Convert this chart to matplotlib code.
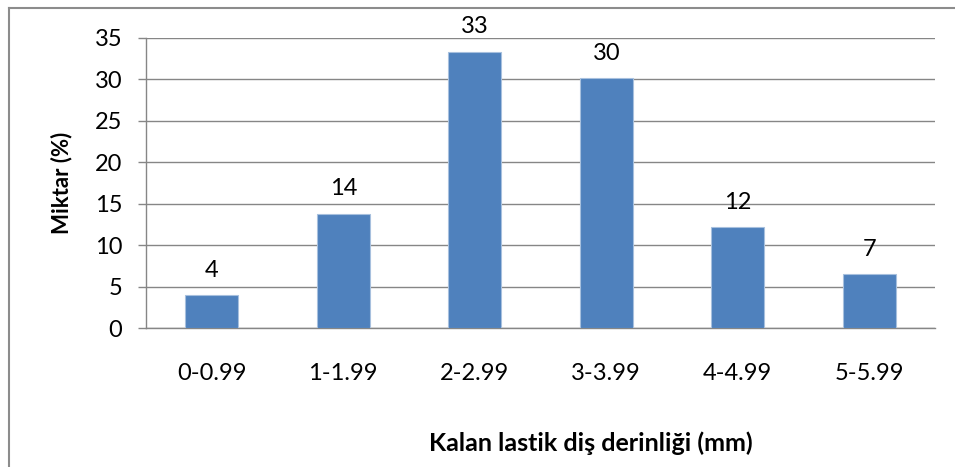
import matplotlib
matplotlib.use("Agg")
import matplotlib.pyplot as plt
from matplotlib.lines import Line2D

# tread depth classes (mm) and share of tyres (%)
categories = ["0-0.99", "1-1.99", "2-2.99", "3-3.99", "4-4.99", "5-5.99"]
shares = [4.0, 13.8, 33.3, 30.1, 12.2, 6.5]
y_ticks = [0, 5, 10, 15, 20, 25, 30, 35]

plt.rcParams["font.family"] = ["Lato", "DejaVu Sans"]

W, H = 955, 467
fig = plt.figure(figsize=(W / 100, H / 100), dpi=100)
ax = fig.add_axes([146 / W, 1 - 328.3 / H, (935 - 146) / W, (328.3 - 37.7) / H])

grid_c = "#868686"
x = range(len(categories))
bars = ax.bar(x, shares, width=0.4, color="#4F81BD", edgecolor="#A7C0DE",
              linewidth=0.8, zorder=3)

# value labels above the bars (rounded half up)
for b, v in zip(bars, shares):
    ax.annotate(f"{int(v + 0.5)}", (b.get_x() + b.get_width() / 2, v),
                xytext=(0, 13.3), textcoords="offset points",
                ha="center", va="baseline", fontsize=17, color="black",
                annotation_clip=False)

ax.set_xlim(-0.5, len(categories) - 0.5)
ax.set_ylim(0, 35)
ax.set_yticks(y_ticks)
ax.set_xticks(list(x))
ax.set_xticklabels(categories)
ax.yaxis.grid(True, color=grid_c, linewidth=1.0, zorder=0)
ax.set_axisbelow(True)

for s in ["top", "right"]:
    ax.spines[s].set_visible(False)
for s in ["left", "bottom"]:
    ax.spines[s].set_color(grid_c)
    ax.spines[s].set_linewidth(1.0)

ax.tick_params(axis="y", length=6, width=1.0, color=grid_c, pad=11, labelsize=17)
ax.tick_params(axis="x", length=0, pad=25, labelsize=17)

ax.set_ylabel("Miktar (%)", fontsize=16, fontweight="bold", labelpad=16)
fig.text(591 / W, 1 - 443 / H, "Kalan lastik diş derinliği (mm)",
         ha="center", va="center", fontsize=18, fontweight="bold")

# outer chart frame (left and top edges)
fig.add_artist(Line2D([8.5 / W, 8.5 / W], [0, 1 - 7.5 / H], transform=fig.transFigure,
                      color="#8C8C8C", linewidth=1.5))
fig.add_artist(Line2D([8.5 / W, 1], [1 - 7.5 / H, 1 - 7.5 / H], transform=fig.transFigure,
                      color="#8C8C8C", linewidth=1.5))

fig.savefig("out.png", dpi=100)
